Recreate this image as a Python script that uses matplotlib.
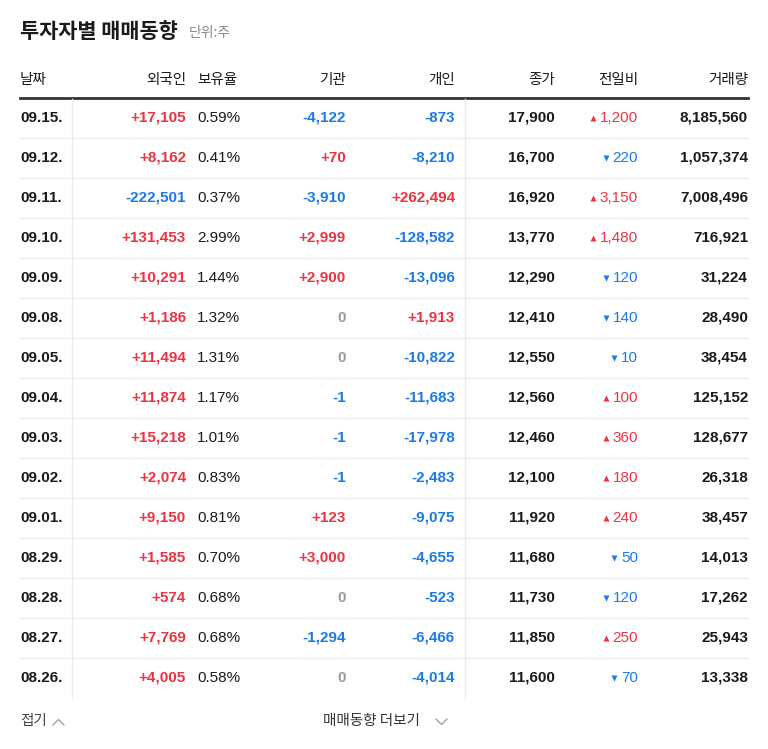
import matplotlib.pyplot as plt

dates = ['09.15.', '09.12.', '09.11.', '09.10.', '09.09.', '09.08.', '09.05.', '09.04.',
         '09.03.', '09.02.', '09.01.', '08.29.', '08.28.', '08.27.', '08.26.']
foreign = [17105, 8162, -222501, 131453, 10291, 1186, 11494, 11874, 15218, 2074, 9150, 1585, 574, 7769, 4005]
holding = ['0.59%', '0.41%', '0.37%', '2.99%', '1.44%', '1.32%', '1.31%', '1.17%',
           '1.01%', '0.83%', '0.81%', '0.70%', '0.68%', '0.68%', '0.58%']
institution = [-4122, 70, -3910, 2999, 2900, 0, 0, -1, -1, -1, 123, 3000, 0, -1294, 0]
individual = [-873, -8210, 262494, -128582, -13096, 1913, -10822, -11683, -17978, -2483, -9075, -4655, -523, -6466, -4014]
close = [17900, 16700, 16920, 13770, 12290, 12410, 12550, 12560, 12460, 12100, 11920, 11680, 11730, 11850, 11600]
change = [1200, -220, 3150, 1480, -120, -140, -10, 100, 360, 180, 240, -50, -120, 250, -70]
volume = [8185560, 1057374, 7008496, 716921, 31224, 28490, 38454, 125152, 128677, 26318, 38457, 14013, 17262, 25943, 13338]

RED = '#ee3340'
BLUE = '#1a7be6'
GRAY = '#9a9a9a'
DARK = '#1a1a1a'
KR = 'Noto Sans CJK KR'
NUM = 'Liberation Sans'
FS = 11

fig = plt.figure(figsize=(7.68, 7.49), dpi=100)
ax = fig.add_axes([0, 0, 1, 1])
ax.set_xlim(0, 768)
ax.set_ylim(749, 0)
ax.axis('off')
fig.canvas.draw()
rend = fig.canvas.get_renderer()


def signed_color(v):
    return RED if v > 0 else BLUE if v < 0 else GRAY


def signed(v):
    return f'{v:+,}' if v != 0 else '0'


def left_of(txt):
    bb = txt.get_window_extent(renderer=rend)
    return ax.transData.inverted().transform((bb.x0, 0))[0]


ax.text(20, 32, '투자자별 매매동향', fontsize=15, fontweight='bold', family=KR, va='center', color=DARK)
ax.text(189, 33, '단위:주', fontsize=10, family=KR, va='center', color='#888888')

heads = [('날짜', 20, 'left'), ('외국인', 186, 'right'), ('보유율', 197, 'left'), ('기관', 346, 'right'),
         ('개인', 455, 'right'), ('종가', 555, 'right'), ('전일비', 638, 'right'), ('거래량', 748, 'right')]
for t, x, ha in heads:
    ax.text(x, 80, t, fontsize=10.5, family=KR, ha=ha, va='center', color=DARK)
ax.plot([20, 748], [98, 98], color='#333333', lw=2)

y0, step = 118, 40
for i in range(len(dates)):
    y = y0 + i * step
    if i < len(dates) - 1:
        ax.plot([20, 748], [y + 20, y + 20], color='#ebebeb', lw=1)
    ax.text(20, y, dates[i], fontsize=FS, fontweight='bold', family=NUM, va='center', color=DARK)
    ax.text(186, y, signed(foreign[i]), fontsize=FS, fontweight='bold', family=NUM, ha='right', va='center',
            color=signed_color(foreign[i]))
    ax.text(197, y, holding[i], fontsize=FS, family=NUM, va='center', color=DARK)
    ax.text(346, y, signed(institution[i]), fontsize=FS, fontweight='bold', family=NUM, ha='right', va='center',
            color=signed_color(institution[i]))
    ax.text(455, y, signed(individual[i]), fontsize=FS, fontweight='bold', family=NUM, ha='right', va='center',
            color=signed_color(individual[i]))
    ax.text(555, y, f'{close[i]:,}', fontsize=FS, fontweight='bold', family=NUM, ha='right', va='center', color=DARK)
    c = change[i]
    col = RED if c > 0 else BLUE
    txt = ax.text(638, y, f'{abs(c):,}', fontsize=FS, family=NUM, ha='right', va='center', color=col)
    ax.plot(left_of(txt) - 7, y, marker='^' if c > 0 else 'v', ms=4.5, color=col, mec='none')
    ax.text(748, y, f'{volume[i]:,}', fontsize=FS, fontweight='bold', family=NUM, ha='right', va='center', color=DARK)

for x in (72, 465):
    ax.plot([x, x], [99, 698], color='#ebebeb', lw=1)

ax.text(20, 721, '접기', fontsize=10.5, family=KR, va='center', color='#444444')
ax.plot([53, 58.5, 64], [725, 719.5, 725], color='#999999', lw=0.9)
ax.text(323, 721, '매매동향 더보기', fontsize=10.5, family=KR, va='center', color='#333333')
ax.plot([436, 441.5, 447], [719, 724.5, 719], color='#999999', lw=0.9)

fig.savefig('out.png', dpi=100)
